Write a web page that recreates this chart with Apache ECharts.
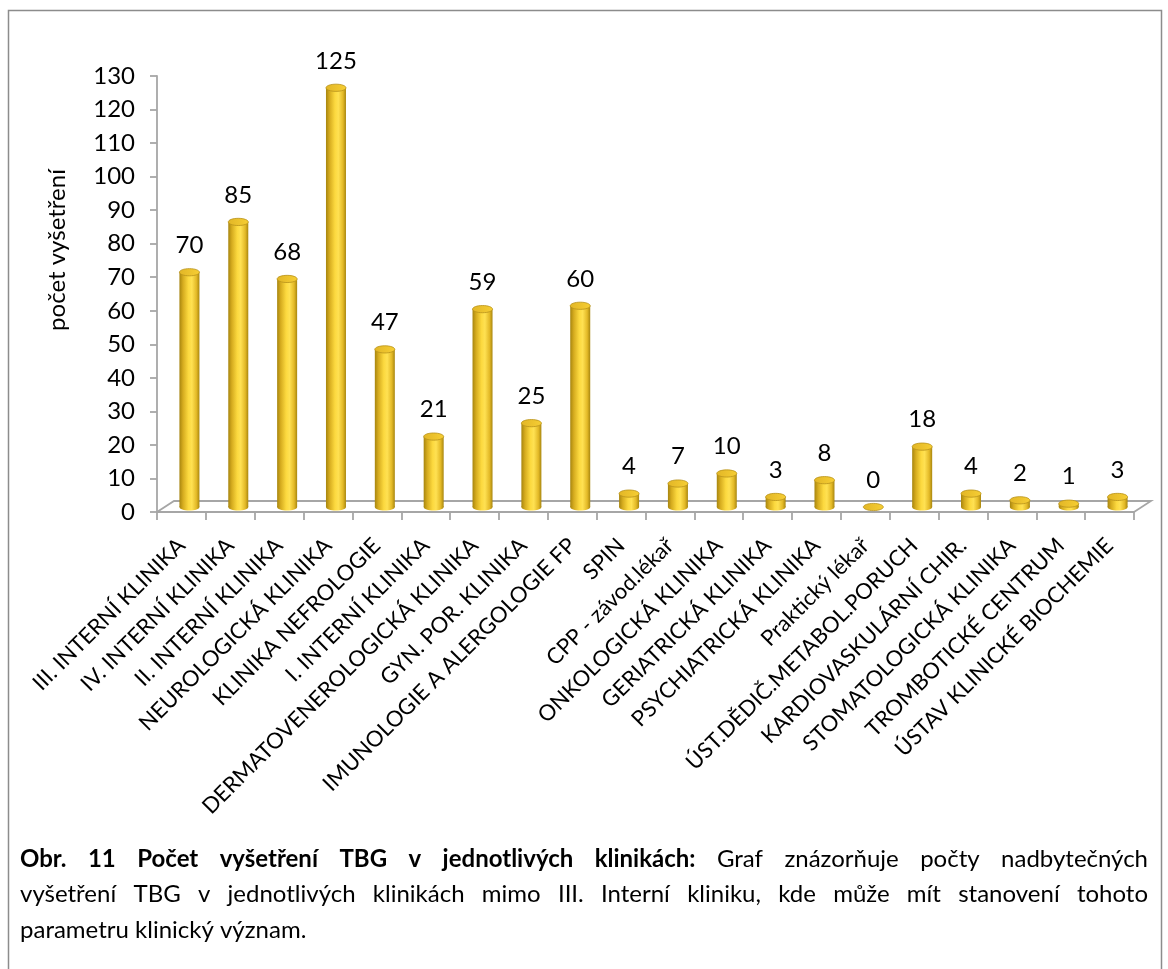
<!DOCTYPE html>
<html>
<head>
<meta charset="utf-8">
<script src="https://cdn.jsdelivr.net/npm/echarts@6/dist/echarts.min.js"></script>
<style>
  html, body { margin: 0; padding: 0; background: #ffffff; }
  #chart { width: 1168px; height: 969px; }
</style>
</head>
<body>
<div id="chart"></div>
<script>
// Clinics and number of TBG examinations
const categories = [
  'III. INTERNÍ KLINIKA',
  'IV. INTERNÍ KLINIKA',
  'II. INTERNÍ KLINIKA',
  'NEUROLOGICKÁ KLINIKA',
  'KLINIKA NEFROLOGIE',
  'I. INTERNÍ KLINIKA',
  'DERMATOVENEROLOGICKÁ KLINIKA',
  'GYN. POR. KLINIKA',
  'IMUNOLOGIE A ALERGOLOGIE FP',
  'SPIN',
  'CPP - závod.lékař',
  'ONKOLOGICKÁ KLINIKA',
  'GERIATRICKÁ KLINIKA',
  'PSYCHIATRICKÁ KLINIKA',
  'Praktický lékař',
  'ÚST.DĚDIČ.METABOL.PORUCH',
  'KARDIOVASKULÁRNÍ CHIR.',
  'STOMATOLOGICKÁ KLINIKA',
  'TROMBOTICKÉ CENTRUM',
  'ÚSTAV KLINICKÉ BIOCHEMIE'
];
const values = [70, 85, 68, 125, 47, 21, 59, 25, 60, 4, 7, 10, 3, 8, 0, 18, 4, 2, 1, 3];

// Value axis
const yMin = 0;
const yMax = 130;
const yStep = 10;
const yAxisTitle = 'počet vyšetření';

// Caption, split into its printed lines
const captionLines = [
  [{ t: 'Obr. 11 Počet vyšetření TBG v jednotlivých klinikách:', bold: true },
   { t: 'Graf znázorňuje počty nadbytečných', bold: false }],
  [{ t: 'vyšetření TBG v jednotlivých klinikách mimo III. Interní kliniku, kde může mít stanovení tohoto', bold: false }],
  [{ t: 'parametru klinický význam.', bold: false }]
];

// ---- styling ----
const FONT = 'Lato';
const GRID = { left: 157, top: 76, right: 34, bottom: 457 };
const DEPTH_X = 17, DEPTH_Y = -11;      // floor depth (back edge offset)
const BAR_DX = 8, BAR_DY = -5;          // bars stand mid-depth on the floor
const BAR_R = 10, BAR_RY = 3.6;
const AXIS_GREY = '#A6A6A6';

const CAP_SIZE = 24;
const CAP_LEFT = 20, CAP_RIGHT = 1148;
const CAP_Y0 = 859, CAP_LINE = 35.5;

const bodyGrad = new echarts.graphic.LinearGradient(0, 0, 1, 0, [
  { offset: 0, color: '#A7850F' },
  { offset: 0.18, color: '#D6AC1F' },
  { offset: 0.45, color: '#FCD93F' },
  { offset: 0.62, color: '#FFE152' },
  { offset: 0.85, color: '#E3B927' },
  { offset: 1, color: '#A8860F' }
]);
const topGrad = new echarts.graphic.LinearGradient(0, 0, 1, 0, [
  { offset: 0, color: '#E2B626' },
  { offset: 1, color: '#F6CE34' }
]);

function renderCylinder(params, api) {
  const i = api.value(0);
  const v = api.value(1);
  const p0 = api.coord([i, 0]);
  const p1 = api.coord([i, v]);
  const cx = p0[0] + BAR_DX;
  const yb = p0[1] + BAR_DY;
  const yt = p1[1] + BAR_DY;
  const children = [];
  if (yb - yt > 0.5) {
    children.push({
      type: 'ellipse',
      shape: { cx: cx, cy: yb, rx: BAR_R, ry: BAR_RY },
      style: { fill: bodyGrad }
    });
    children.push({
      type: 'rect',
      shape: { x: cx - BAR_R, y: yt, width: BAR_R * 2, height: yb - yt },
      style: { fill: bodyGrad }
    });
  }
  children.push({
    type: 'ellipse',
    shape: { cx: cx, cy: yt, rx: BAR_R, ry: BAR_RY },
    style: { fill: topGrad, stroke: '#B8921A', lineWidth: 0.8 }
  });
  children.push({
    type: 'text',
    x: cx,
    y: yt - 27,
    style: {
      text: String(v),
      font: '24px ' + FONT,
      fill: '#000000',
      align: 'center',
      verticalAlign: 'middle',
      textAlign: 'center',
      textVerticalAlign: 'middle'
    }
  });
  return { type: 'group', children: children };
}

function renderFloor(params) {
  const cs = params.coordSys;
  const x0 = cs.x, x1 = cs.x + cs.width, y = cs.y + cs.height;
  return {
    type: 'polyline',
    shape: {
      points: [
        [x0, y], [x0 + DEPTH_X, y + DEPTH_Y],
        [x1 + DEPTH_X, y + DEPTH_Y], [x1, y]
      ]
    },
    style: { stroke: AXIS_GREY, lineWidth: 1.8, fill: null },
    silent: true
  };
}

// caption words, justified like the printed paragraph
const measureCtx = document.createElement('canvas').getContext('2d');
function textWidth(s, bold) {
  measureCtx.font = (bold ? 'bold ' : '') + CAP_SIZE + 'px ' + FONT;
  return measureCtx.measureText(s).width;
}
const captionGraphics = [];
captionLines.forEach(function (segs, li) {
  const words = [];
  segs.forEach(function (s) {
    s.t.split(' ').forEach(function (w) { words.push({ w: w, bold: s.bold }); });
  });
  const widths = words.map(function (o) { return textWidth(o.w, o.bold); });
  const total = widths.reduce(function (a, b) { return a + b; }, 0);
  const justify = li < captionLines.length - 1;
  const gap = justify ? (CAP_RIGHT - CAP_LEFT - total) / (words.length - 1) : textWidth(' ', false);
  let x = CAP_LEFT;
  words.forEach(function (o, k) {
    captionGraphics.push({
      type: 'text',
      x: x,
      y: CAP_Y0 + li * CAP_LINE,
      style: {
        text: o.w,
        font: (o.bold ? 'bold ' : '') + CAP_SIZE + 'px ' + FONT,
        fill: '#000000',
        textVerticalAlign: 'middle',
        verticalAlign: 'middle'
      }
    });
    x += widths[k] + gap;
  });
});

const chart = echarts.init(document.getElementById('chart'), null, { renderer: 'canvas' });
chart.setOption({
  backgroundColor: '#ffffff',
  animation: false,
  grid: GRID,
  xAxis: {
    type: 'category',
    data: categories,
    boundaryGap: true,
    axisLine: { show: true, lineStyle: { color: AXIS_GREY, width: 1.8 } },
    axisTick: { show: true, length: 8, interval: 0, lineStyle: { color: AXIS_GREY, width: 1.8 } },
    axisLabel: {
      interval: 0,
      rotate: 45,
      margin: 30,
      fontFamily: FONT,
      fontSize: 22,
      color: '#000000'
    },
    splitLine: { show: false }
  },
  yAxis: {
    type: 'value',
    min: yMin,
    max: yMax,
    interval: yStep,
    axisLine: { show: true, lineStyle: { color: AXIS_GREY, width: 1.8 } },
    axisTick: { show: true, length: 7, lineStyle: { color: AXIS_GREY, width: 1.8 } },
    axisLabel: { margin: 22, fontFamily: FONT, fontSize: 24, color: '#000000' },
    splitLine: { show: false }
  },
  graphic: [
    {
      type: 'polyline',
      shape: { points: [[8.5, 975], [8.5, 10.5], [1161.5, 10.5], [1161.5, 975]] },
      style: { stroke: '#8C8C8C', lineWidth: 1.5, fill: null },
      silent: true
    },
    {
      type: 'text',
      x: 57,
      y: 250,
      rotation: Math.PI / 2,
      style: {
        text: yAxisTitle,
        font: '24px ' + FONT,
        fill: '#000000',
        textAlign: 'center',
        textVerticalAlign: 'middle',
        align: 'center',
        verticalAlign: 'middle'
      }
    }
  ].concat(captionGraphics),
  series: [
    {
      type: 'custom',
      name: 'floor',
      data: [0],
      renderItem: renderFloor,
      z: 1,
      silent: true
    },
    {
      type: 'custom',
      name: yAxisTitle,
      data: values.map(function (v, i) { return [i, v]; }),
      encode: { x: 0, y: 1 },
      renderItem: renderCylinder,
      z: 3
    }
  ]
});
</script>
</body>
</html>
